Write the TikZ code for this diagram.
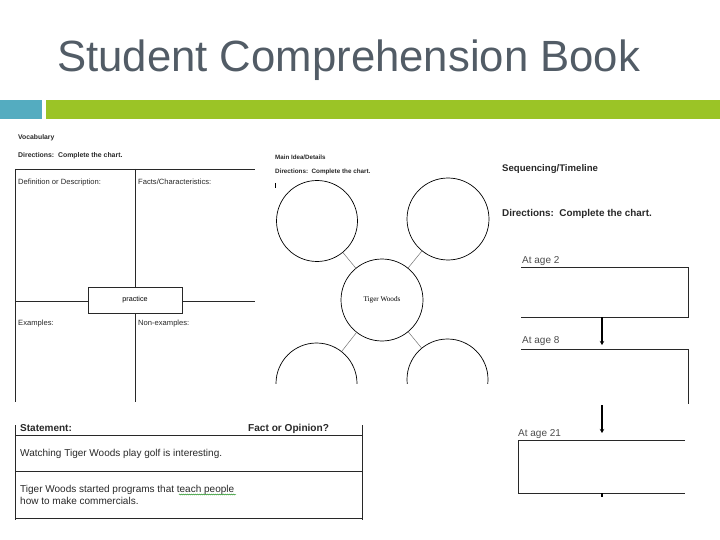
\documentclass[tikz,border=0pt]{standalone}
\usepackage{fontspec}
\setmainfont{Liberation Sans}
\newfontfamily\serifwoods{Liberation Serif}
\usetikzlibrary{arrows.meta,decorations.pathmorphing}
\definecolor{titlegray}{RGB}{82,92,102}
\definecolor{barteal}{RGB}{84,172,192}
\definecolor{bargreen}{RGB}{155,196,38}
\definecolor{inkgray}{RGB}{40,40,40}
\tikzset{
  txt/.style={anchor=base west,inner sep=0pt,text=inkgray},
  rule/.style={line width=0.8pt,draw=inkgray},
  bubble/.style={circle,draw=black,line width=0.7pt,inner sep=0pt},
  spoke/.style={draw=black!55,line width=0.5pt},
  seqarrow/.style={line width=1.4pt,-{Stealth[length=4pt,width=4.5pt]}}
}
\newcommand{\fsz}[1]{\fontsize{#1}{#1}\selectfont}
\begin{document}
\begin{tikzpicture}[x=1pt,y=-1pt]
        \useasboundingbox (0,0) rectangle (720,540);
        % title and bars
        \node[anchor=base west,inner sep=0pt,text=titlegray,font=\fsz{43.7}] (title) at (57,72) {Student Comprehension Book};
        \fill[barteal] (0,100) rectangle (42,119);
        \fill[bargreen] (46,100) rectangle (720,119);
        % Vocabulary chart
        \node[txt,font=\fsz{6.8}\bfseries] (voc) at (18,140) {Vocabulary};
        \node[txt,font=\fsz{6.9}\bfseries] (vocdir) at (18,158) {Directions:\ \ Complete the chart.};
        \draw[rule] (15,169) -- (255,169);
        \draw[rule] (15,169) -- (15,402);
        \draw[rule] (135,169) -- (135,402);
        \draw[rule] (15,301) -- (255,301);
        \node[draw=inkgray,line width=0.7pt,fill=white,minimum width=94,minimum height=26,font=\fsz{7.2}] (word) at (135,300) {practice};
        \node[txt,font=\fsz{7.6}] (defn) at (18,185) {Definition or Description:};
        \node[txt,font=\fsz{7.6}] (facts) at (138,185) {Facts/Characteristics:};
        \node[txt,font=\fsz{7.6}] (exmp) at (18,325) {Examples:};
        \node[txt,font=\fsz{7.6}] (nonex) at (138,325) {Non-examples:};
        % Main idea web
        \node[txt,font=\fsz{6.2}\bfseries] (mainidea) at (275,160) {Main Idea/Details};
        \node[txt,font=\fsz{6.3}\bfseries] (maindir) at (275,174) {Directions:\ \ Complete the chart.};
        \draw[line width=0.6pt] (275.5,183) -- (275.5,188);
        \begin{scope}
          \clip (260,140) rectangle (495,383);
          \node[bubble,minimum size=82,font=\serifwoods\fsz{7.2}] (tiger) at (382,300) {Tiger Woods};
          \node[bubble,minimum size=81] (nwc) at (317,221) {};
          \node[bubble,minimum size=82] (nec) at (448,219) {};
          \node[bubble,minimum size=81] (swc) at (316.5,383.5) {};
          \node[bubble,minimum size=81] (sec) at (447.5,379.5) {};
          \draw[spoke] (nwc) -- (tiger);
          \draw[spoke] (nec) -- (tiger);
          \draw[spoke] (swc) -- (tiger);
          \draw[spoke] (sec) -- (tiger);
        \end{scope}
        % Sequencing timeline
        \node[txt,font=\fsz{9.6}\bfseries] (seq) at (502,172) {Sequencing/Timeline};
        \node[txt,font=\fsz{9.9}\bfseries] (seqdir) at (502,217) {Directions:\ \ Complete the chart.};
        \node[txt,font=\fsz{10},text=black!70] (age2) at (522,263) {At age 2};
        \draw[rule] (521,267) -- (688,267) -- (688,317) -- (521,317);
        \node[txt,font=\fsz{10},text=black!70] (age8) at (522,343) {At age 8};
        \draw[rule] (521,349) -- (688,349) -- (688,404);
        \node[txt,font=\fsz{10},text=black!70] (age21) at (518,436) {At age 21};
        \draw[rule] (685,440) -- (518,440) -- (518,493) -- (685,493);
        \coordinate (b1) at (602,317);
        \coordinate (b2) at (602,345);
        \coordinate (b3) at (602,405);
        \coordinate (b4) at (602,433);
        \coordinate (b5) at (602,493);
        \coordinate (b6) at (602,497);
        \draw[seqarrow] (b1) -- (b2);
        \draw[seqarrow] (b3) -- (b4);
        \draw[line width=1.4pt] (b5) -- (b6);
        % Fact or opinion table
        \draw[rule] (15,425) -- (15,520);
        \draw[rule] (362,425) -- (362,520);
        \draw[rule] (15,435) -- (362,435);
        \draw[rule] (15,471) -- (362,471);
        \draw[rule] (15,518) -- (362,518);
        \node[txt,font=\fsz{10}\bfseries] (stmt) at (20,431) {Statement:};
        \node[txt,font=\fsz{10.1}\bfseries] (fop) at (248,431) {Fact or Opinion?};
        \node[txt,font=\fsz{10}] (row1) at (20,456) {Watching Tiger Woods play golf is interesting.};
        \node[txt,font=\fsz{10}] (row2a) at (20,492) {Tiger Woods started programs that teach people};
        \node[txt,font=\fsz{10}] (row2b) at (20,504) {how to make commercials.};
        \draw[draw=green!50!black,line width=0.4pt,decorate,decoration={snake,amplitude=0.5pt,segment length=2pt}] (179,494.5) -- (236,494.5);
\end{tikzpicture}
\end{document}
